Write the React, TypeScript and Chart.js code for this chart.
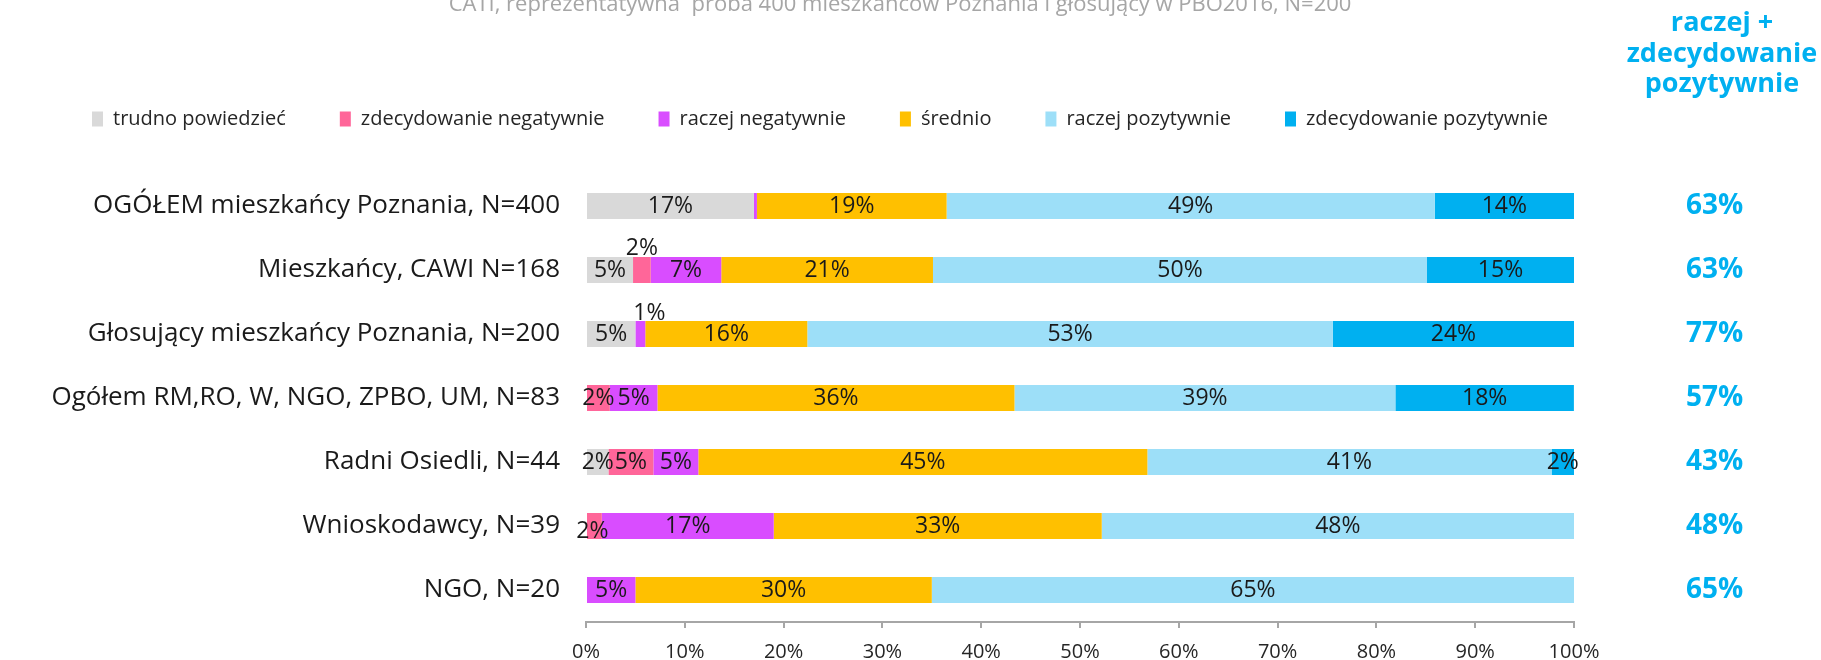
import React, { useEffect, useRef } from 'react';
import { Chart, registerables } from 'chart.js';

Chart.register(...registerables);

const FONT = "'Open Sans', 'Liberation Sans', sans-serif";

const titleText = 'CATI, reprezentatywna  próba 400 mieszkańców Poznania i głosujący w PBO2016, N=200';
const headerLines = ['raczej +', 'zdecydowanie', 'pozytywnie'];

const categories = [
  'OGÓŁEM mieszkańcy Poznania, N=400',
  'Mieszkańcy, CAWI N=168',
  'Głosujący mieszkańcy Poznania, N=200',
  'Ogółem RM,RO, W, NGO, ZPBO, UM, N=83',
  'Radni Osiedli, N=44',
  'Wnioskodawcy, N=39',
  'NGO, N=20',
];

const seriesNames = [
  'trudno powiedzieć',
  'zdecydowanie negatywnie',
  'raczej negatywnie',
  'średnio',
  'raczej pozytywnie',
  'zdecydowanie pozytywnie',
];

const trudno = [17.0, 4.76, 5.0, 0, 2.27, 0, 0];
const zdecNeg = [0, 1.79, 0, 2.41, 4.55, 1.6, 0];
const raczejNeg = [0.3, 7.14, 1.0, 4.82, 4.55, 17.4, 5.0];
const srednio = [19.2, 21.43, 16.4, 36.14, 45.45, 33.2, 30.0];
const raczejPoz = [49.4, 50.0, 53.2, 38.55, 40.91, 47.8, 65.0];
const zdecPoz = [14.1, 14.88, 24.4, 18.07, 2.27, 0, 0];

const totalPositive = ['63%', '63%', '77%', '57%', '43%', '48%', '65%'];

const seriesColors = ['#D9D9D9', '#FF6699', '#D94DFF', '#FFC000', '#9DDFF8', '#00B0F0'];

// label placement tweaks for very thin segments: [row, series, dx, dy]
const labelNudges: [number, number, number, number][] = [
  [1, 1, 0, -22],
  [2, 2, 9, -21],
  [5, 1, -2, 5],
];

const segmentLabels = {
  id: 'segmentLabels',
  afterDatasetsDraw(chart: any) {
    const ctx = chart.ctx;
    ctx.save();
    ctx.font = `23px ${FONT}`;
    ctx.fillStyle = '#1a1a1a';
    ctx.textAlign = 'center';
    ctx.textBaseline = 'middle';
    chart.data.datasets.forEach((ds: any, di: number) => {
      const meta = chart.getDatasetMeta(di);
      meta.data.forEach((el: any, i: number) => {
        const v = ds.data[i] as number;
        if (!v || v < 0.5) return;
        const c = el.getCenterPoint();
        const n = labelNudges.find((t) => t[0] === i && t[1] === di);
        const dx = n ? n[2] : 0;
        const dy = n ? n[3] : 0;
        ctx.fillText(Math.round(v) + '%', c.x + dx, c.y + dy);
      });
    });
    ctx.restore();
  },
};

const columnHeader = {
  id: 'columnHeader',
  afterDraw(chart: any) {
    const ctx = chart.ctx;
    ctx.save();
    ctx.font = `bold 27px ${FONT}`;
    ctx.fillStyle = '#00B0F0';
    ctx.textAlign = 'center';
    ctx.textBaseline = 'middle';
    const ys = [43, 74, 104];
    headerLines.forEach((t, i) => ctx.fillText(t, 1722, ys[i]));
    ctx.restore();
  },
};

export default function App() {
  const ref = useRef<HTMLCanvasElement>(null);

  useEffect(() => {
    const seriesData = [trudno, zdecNeg, raczejNeg, srednio, raczejPoz, zdecPoz];
    const chart = new Chart(ref.current as HTMLCanvasElement, {
      type: 'bar',
      data: {
        labels: categories,
        datasets: seriesNames.map((name, k) => ({
          label: name,
          data: seriesData[k],
          backgroundColor: seriesColors[k],
          borderWidth: 0,
          xAxisID: 'x',
          yAxisID: 'y',
          categoryPercentage: 0.5,
          barPercentage: 0.8125,
        })),
      },
      options: {
        indexAxis: 'y',
        responsive: false,
        animation: false,
        layout: { padding: { left: 38, right: 59, top: 0, bottom: 0 } },
        plugins: {
          title: {
            display: true,
            text: titleText,
            color: '#A6A6A6',
            font: { family: FONT, size: 22, weight: 'normal' },
            padding: { top: 12, bottom: 36.6 },
          },
          legend: {
            display: true,
            position: 'top',
            align: 'start',
            labels: {
              boxWidth: 11,
              boxHeight: 15,
              padding: 54,
              color: '#262626',
              font: { family: FONT, size: 20 },
            },
          },
          tooltip: { enabled: false },
        },
        scales: {
          x: {
            type: 'linear',
            axis: 'x',
            position: 'bottom',
            stacked: true,
            min: 0,
            max: 100,
            ticks: {
              stepSize: 10,
              callback: (v: any) => v + '%',
              color: '#262626',
              font: { family: FONT, size: 20 },
              padding: 12,
            },
            grid: { drawOnChartArea: false, drawTicks: true, tickLength: 6, color: '#A6A6A6', lineWidth: 2 },
            border: { display: true, color: '#A6A6A6', width: 2 },
            afterFit: (s: any) => {
              s.height = 50;
            },
          },
          xTop: {
            type: 'linear',
            axis: 'x',
            position: 'top',
            display: true,
            ticks: { display: false },
            grid: { display: false, drawTicks: false },
            border: { display: false },
            afterFit: (s: any) => {
              s.height = 35;
            },
          },
          y: {
            type: 'category',
            axis: 'y',
            position: 'left',
            stacked: true,
            offset: true,
            grid: { display: false, drawTicks: false },
            border: { display: false },
            ticks: { color: '#1a1a1a', font: { family: FONT, size: 26 }, padding: 26, autoSkip: false },
            afterFit: (s: any) => {
              s.width = 548;
            },
          },
          yTotals: {
            type: 'category',
            axis: 'y',
            labels: totalPositive,
            position: 'right',
            offset: true,
            grid: {
              display: true,
              drawOnChartArea: false,
              drawTicks: true,
              tickLength: 112,
              color: 'rgba(0,0,0,0)',
            },
            border: { display: false },
            ticks: {
              color: '#00B0F0',
              font: { family: FONT, size: 28, weight: 'bold' },
              crossAlign: 'center',
              padding: 0,
              autoSkip: false,
            },
            afterFit: (s: any) => {
              s.width = 188;
            },
          },
        },
      } as any,
      plugins: [segmentLabels, columnHeader],
    });
    return () => chart.destroy();
  }, []);

  return (
    <div
      style={{
        position: 'absolute',
        left: 0,
        top: 0,
        width: 1821,
        height: 660,
        overflow: 'hidden',
        background: '#ffffff',
      }}
    >
      <canvas
        ref={ref}
        width={1821}
        height={692}
        style={{ position: 'absolute', left: 0, top: -20, width: 1821, height: 692 }}
      />
    </div>
  );
}
